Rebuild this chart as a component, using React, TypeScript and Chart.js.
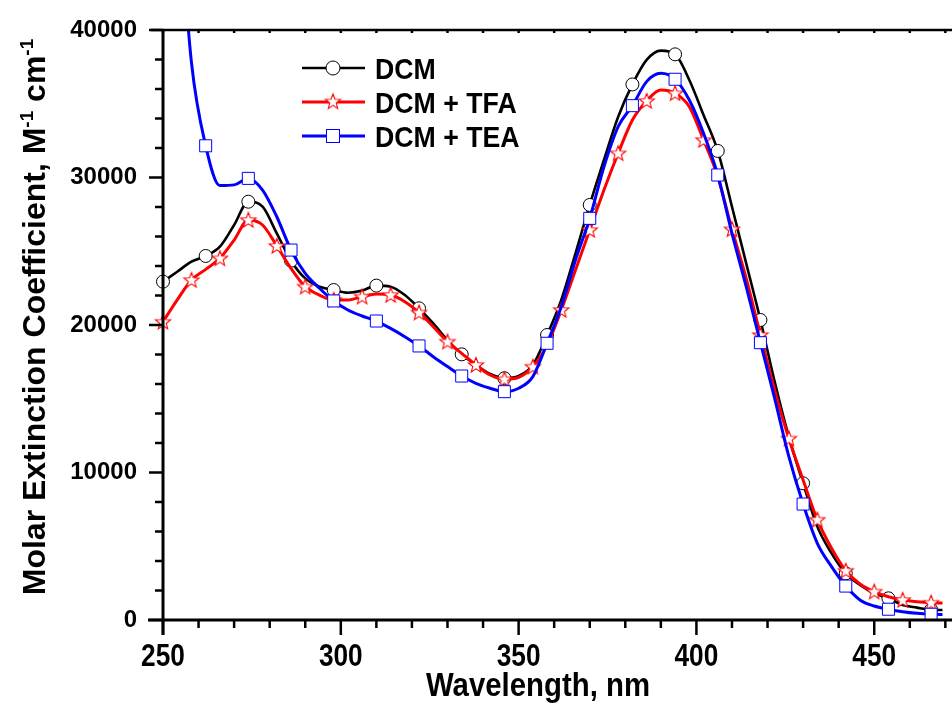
import React, { useEffect, useRef } from 'react';
import { Chart, registerables } from 'chart.js';

Chart.register(...registerables);

// ---- data ----
const wavelengths = [
  250, 254, 258, 262, 266, 270, 274, 278, 282, 286, 290, 294, 298, 302, 306, 310, 314, 318, 322, 326,
  330, 334, 338, 342, 346, 350, 354, 358, 362, 366, 370, 374, 378, 382, 386, 390, 394, 398, 402, 406,
  410, 414, 418, 422, 426, 430, 434, 438, 442, 446, 450, 454, 458, 462, 466, 470,
];

const dcm = [
  22940, 23610, 24290, 24680, 25310, 26780, 28360, 28020, 26210, 24360, 23160, 22600, 22370, 22190, 22330, 22670, 22600, 22030, 21130, 20110,
  18980, 18010, 17290, 16680, 16390, 16540, 17290, 19320, 21700, 24860, 28140, 31190, 34120, 36310, 37970, 38600, 38350, 36610, 34240, 31800,
  28020, 24180, 20340, 16160, 12400, 9270, 6330, 4520, 3160, 2370, 1810, 1470, 1020, 840, 700, 680,
];

const dcmTfa = [
  20220, 21700, 23050, 23770, 24520, 25760, 27120, 26780, 25360, 23840, 22600, 22030, 21700, 21700, 21920, 22100, 22030, 21580, 20840, 19890,
  18870, 18080, 17290, 16610, 16320, 16450, 17170, 18640, 21020, 23730, 26440, 29150, 31640, 33900, 35190, 35930, 35710, 34800, 32540, 30060,
  26490, 23160, 19320, 15590, 12300, 9490, 6800, 4860, 3340, 2440, 1920, 1580, 1360, 1240, 1170, 1150,
];

const dcmTea = [
  62000, 50000, 37800, 32150, 29450, 29500, 29940, 29150, 27340, 25080, 23500, 22490, 21630, 21020, 20610, 20270, 19770, 19210, 18580, 17850,
  17180, 16540, 16050, 15710, 15480, 15710, 16500, 18760, 21240, 24410, 27230, 30730, 33450, 34870, 36500, 37060, 36660, 35250, 33000, 30170,
  26210, 22600, 18800, 15030, 11070, 7860, 5200, 3620, 2300, 1360, 950, 730, 560, 450, 390, 370,
];

const seriesLabels = ['DCM', 'DCM + TFA', 'DCM + TEA'];
const markerSteps = [12, 8, 12];
const xTickLabels = [250, 300, 350, 400, 450];
const yTickLabels = [0, 10000, 20000, 30000, 40000];
const xTitle = 'Wavelength, nm';
const yTitleParts = [
  { text: 'Molar Extinction Coefficient, M', sup: false },
  { text: '-1', sup: true },
  { text: ' cm', sup: false },
  { text: '-1', sup: true },
];

const FONT = '"Liberation Sans", Arial, sans-serif';

function makeStar(color: string) {
  const c = document.createElement('canvas');
  c.width = 20;
  c.height = 20;
  const g = c.getContext('2d')!;
  g.beginPath();
  for (let k = 0; k < 10; k++) {
    const r = k % 2 === 0 ? 8 : 3.4;
    const a = -Math.PI / 2 + (k * Math.PI) / 5;
    g.lineTo(10 + r * Math.cos(a), 10.5 + r * Math.sin(a));
  }
  g.closePath();
  g.fillStyle = '#ffffff';
  g.fill();
  g.strokeStyle = color;
  g.lineWidth = 1.1;
  g.stroke();
  return c;
}

export default function App() {
  const ref = useRef<HTMLCanvasElement | null>(null);

  useEffect(() => {
    if (!ref.current) return;
    const star = makeStar('#ff0000');
    const colors = ['#000000', '#ff0000', '#0000ff'];
    const widths = [2.6, 3, 3];
    const styles: any[] = ['circle', star, 'rect'];
    const radii = [6.5, 8, 8.5];
    const values = [dcm, dcmTfa, dcmTea];
    const orders = [3, 2, 1];

    const datasets = values.map((vals, s) => ({
      label: seriesLabels[s],
      data: wavelengths.map((x, i) => ({ x, y: vals[i] })),
      borderColor: colors[s],
      borderWidth: widths[s],
      backgroundColor: '#ffffff',
      pointStyle: styles[s],
      pointRadius: (ctx: any) => {
        const i = ctx.dataIndex;
        if (i === undefined) return 0;
        return (wavelengths[i] - 250) % markerSteps[s] === 0 ? radii[s] : 0;
      },
      pointBackgroundColor: '#ffffff',
      pointBorderColor: colors[s],
      pointBorderWidth: 1,
      cubicInterpolationMode: 'monotone',
      fill: false,
      order: orders[s],
      clip: { left: 10, top: 0, right: 0, bottom: 10 },
    }));

    const decor = {
      id: 'decor',
      afterDraw(chart: any) {
        const { ctx, chartArea } = chart;
        const xs = chart.scales.x;
        const ys = chart.scales.y;
        const L = chartArea.left;
        const T = chartArea.top;
        const B = chartArea.bottom;
        const R = chart.width;
        ctx.save();
        ctx.strokeStyle = '#000';
        ctx.lineCap = 'butt';
        // frame
        ctx.lineWidth = 2.5;
        ctx.beginPath();
        ctx.moveTo(L - 12, T);
        ctx.lineTo(R, T);
        ctx.stroke();
        ctx.lineWidth = 3;
        ctx.beginPath();
        ctx.moveTo(L, T - 1);
        ctx.lineTo(L, B + 15);
        ctx.stroke();
        ctx.beginPath();
        ctx.moveTo(L - 15, B);
        ctx.lineTo(R, B);
        ctx.stroke();
        // x ticks
        ctx.lineWidth = 2.5;
        for (let v = 250; v <= 470; v += 10) {
          const px = xs.getPixelForValue(v);
          if (px > R) break;
          const major = v % 50 === 0;
          ctx.beginPath();
          ctx.moveTo(px, B);
          ctx.lineTo(px, B + (major ? 15 : 8));
          ctx.stroke();
          ctx.beginPath();
          ctx.moveTo(px, T);
          ctx.lineTo(px, T + 3);
          ctx.stroke();
        }
        // x tick labels (condensed bold)
        ctx.fillStyle = '#000';
        ctx.font = 'bold 32px ' + FONT;
        ctx.textAlign = 'center';
        ctx.textBaseline = 'alphabetic';
        xTickLabels.forEach((v) => {
          const px = xs.getPixelForValue(v);
          ctx.save();
          ctx.translate(px, B + 46);
          ctx.scale(0.82, 1);
          ctx.fillText(String(v), 0, 0);
          ctx.restore();
        });
        // y ticks
        for (let v = 0; v <= 40000; v += 2000) {
          const py = ys.getPixelForValue(v);
          const major = v % 10000 === 0;
          ctx.beginPath();
          ctx.moveTo(L, py);
          ctx.lineTo(L - (major ? 14 : 8), py);
          ctx.stroke();
        }
        // legend
        const rows = [68, 102, 136];
        rows.forEach((ry, s) => {
          ctx.strokeStyle = colors[s];
          ctx.lineWidth = widths[s];
          ctx.beginPath();
          ctx.moveTo(302, ry);
          ctx.lineTo(365, ry);
          ctx.stroke();
          ctx.lineWidth = 1;
          ctx.fillStyle = '#fff';
          if (s === 0) {
            ctx.beginPath();
            ctx.arc(333, ry, 7, 0, Math.PI * 2);
            ctx.fill();
            ctx.stroke();
          } else if (s === 1) {
            ctx.drawImage(star, 333 - 10, ry - 10.5);
          } else {
            ctx.fillRect(326.5, ry - 6.5, 13, 13);
            ctx.strokeRect(326.5, ry - 6.5, 13, 13);
          }
          ctx.save();
          ctx.fillStyle = '#000';
          ctx.font = 'bold 30px ' + FONT;
          ctx.textAlign = 'left';
          ctx.textBaseline = 'alphabetic';
          ctx.translate(375, ry + 10.5);
          ctx.scale(0.89, 1);
          ctx.fillText(seriesLabels[s], 0, 0);
          ctx.restore();
        });
        // x title
        ctx.save();
        ctx.fillStyle = '#000';
        ctx.font = 'bold 33px ' + FONT;
        ctx.textAlign = 'center';
        ctx.textBaseline = 'alphabetic';
        ctx.translate(538, 696);
        ctx.scale(0.89, 1);
        ctx.fillText(xTitle, 0, 0);
        ctx.restore();
        // y title
        ctx.save();
        ctx.fillStyle = '#000';
        ctx.textAlign = 'left';
        ctx.textBaseline = 'alphabetic';
        const mainFont = 'bold 32px ' + FONT;
        const supFont = 'bold 19px ' + FONT;
        let total = 0;
        yTitleParts.forEach((p) => {
          ctx.font = p.sup ? supFont : mainFont;
          total += ctx.measureText(p.text).width;
        });
        ctx.translate(45, 317);
        ctx.rotate(-Math.PI / 2);
        let cx = -total / 2;
        yTitleParts.forEach((p) => {
          ctx.font = p.sup ? supFont : mainFont;
          ctx.fillText(p.text, cx, p.sup ? -12 : 0);
          cx += ctx.measureText(p.text).width;
        });
        ctx.restore();
        ctx.restore();
      },
    };

    const chart = new Chart(ref.current, {
      type: 'line',
      data: { datasets: datasets as any },
      options: {
        animation: false,
        responsive: true,
        maintainAspectRatio: false,
        events: [],
        layout: { padding: { top: 30, left: 0, right: 0, bottom: 0 } },
        plugins: { legend: { display: false }, tooltip: { enabled: false } },
        scales: {
          x: {
            type: 'linear',
            min: 250,
            max: 469.2,
            grid: { display: false, drawTicks: false },
            border: { display: false },
            ticks: {
              display: false,
              stepSize: 50,
              includeBounds: false,
            },
            afterFit: (s: any) => {
              s.height = 87;
              s.paddingLeft = 0;
              s.paddingRight = 0;
            },
          },
          y: {
            type: 'linear',
            min: 0,
            max: 40000,
            grid: { display: false, drawTicks: false },
            border: { display: false },
            ticks: {
              stepSize: 10000,
              padding: 26,
              color: '#000',
              font: { family: FONT, size: 24, weight: 'bold' },
              callback: (v: any) => (yTickLabels.includes(Number(v)) ? String(v) : ''),
            },
            afterFit: (s: any) => {
              s.width = 163;
              s.paddingTop = 0;
              s.paddingBottom = 0;
            },
          },
        },
      },
      plugins: [decor],
    } as any);

    return () => chart.destroy();
  }, []);

  return (
    <div style={{ position: 'fixed', left: 0, top: 0, width: 952, height: 707, background: '#fff' }}>
      <canvas ref={ref} />
    </div>
  );
}
